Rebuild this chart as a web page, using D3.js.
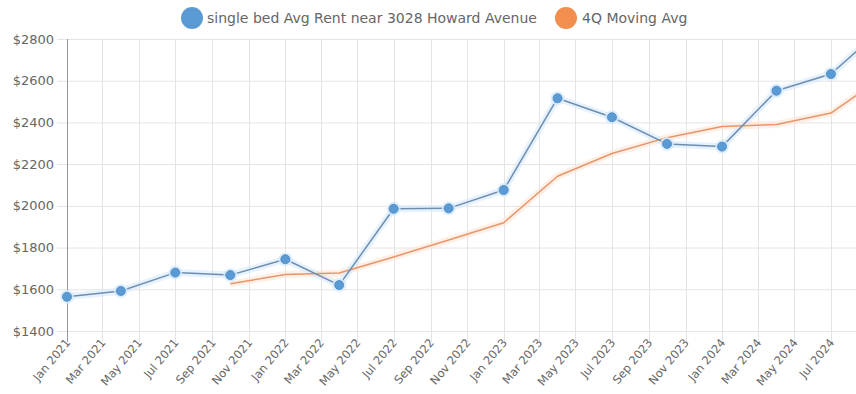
<!DOCTYPE html>
<html>
<head>
<meta charset="utf-8">
<script src="https://cdn.jsdelivr.net/npm/d3@7"></script>
<style>
  html, body { margin: 0; padding: 0; background: #fff; }
  svg { display: block; }
  text { font-family: "DejaVu Sans", Verdana, sans-serif; fill: #666; }
</style>
</head>
<body>
<svg id="chart" width="856" height="394"></svg>
<script>
// Quarterly observations (first of month)
const dates = ["2021-01-01","2021-04-01","2021-07-01","2021-10-01",
               "2022-01-01","2022-04-01","2022-07-01","2022-10-01",
               "2023-01-01","2023-04-01","2023-07-01","2023-10-01",
               "2024-01-01","2024-04-01","2024-07-01","2024-09-01"];
const rentValues = [1564, 1592, 1680, 1668, 1744, 1620, 1986, 1988,
                    2076, 2516, 2425, 2297, 2284, 2552, 2632, 2790];
const movingAvgValues = [null, null, null, 1626, 1671, 1678, 1755, 1836,
                         1919, 2142, 2251, 2327, 2380, 2390, 2445, 2568];
const yTicks = [1400, 1600, 1800, 2000, 2200, 2400, 2600, 2800];
const xTickLabels = ["Jan 2021","Mar 2021","May 2021","Jul 2021","Sep 2021","Nov 2021",
                     "Jan 2022","Mar 2022","May 2022","Jul 2022","Sep 2022","Nov 2022",
                     "Jan 2023","Mar 2023","May 2023","Jul 2023","Sep 2023","Nov 2023",
                     "Jan 2024","Mar 2024","May 2024","Jul 2024"];
const seriesNames = ["single bed Avg Rent near 3028 Howard Avenue", "4Q Moving Avg"];

const parse = d3.timeParse("%Y-%m-%d");
const parseLabel = d3.timeParse("%b %Y");
const svg = d3.select("#chart");
const W = 856, H = 394;

const x = d3.scaleTime()
  .domain([parse("2021-01-01"), parse("2024-09-01")])
  .range([67, 868]);
const y = d3.scaleLinear().domain([1400, 2800]).range([331, 39]);

const blue = "#5b9bd5", blueLine = "#6f8db0", blueHalo = "#d6eafc";
const orange = "#f28e4e", orangeLine = "#e8956a", orangeHalo = "#fde6d6";

const tickDates = xTickLabels.map(s => parseLabel(s));

// grid
const grid = svg.append("g");
grid.selectAll("line.h").data(yTicks).join("line")
  .attr("x1", 57).attr("x2", W)
  .attr("y1", d => y(d) + 0.5).attr("y2", d => y(d) + 0.5)
  .attr("stroke", "#e4e4e4").attr("stroke-width", 1);
grid.selectAll("line.v").data(tickDates.slice(1)).join("line")
  .attr("x1", d => Math.round(x(d)) + 0.5).attr("x2", d => Math.round(x(d)) + 0.5)
  .attr("y1", 39).attr("y2", 342)
  .attr("stroke", "#e4e4e4").attr("stroke-width", 1);
// left axis line
svg.append("line")
  .attr("x1", Math.round(x(tickDates[0])) + 0.5).attr("x2", Math.round(x(tickDates[0])) + 0.5)
  .attr("y1", 39).attr("y2", 342)
  .attr("stroke", "#9a9a9a").attr("stroke-width", 1);

// y labels
svg.append("g").selectAll("text").data(yTicks).join("text")
  .attr("x", 54).attr("y", d => y(d)).attr("dy", "0.35em")
  .attr("text-anchor", "end").attr("font-size", 13)
  .text(d => "$" + d);

// x labels, rotated
svg.append("g").selectAll("text").data(tickDates).join("text")
  .attr("transform", (d) => `translate(${x(d) + 4},${343}) rotate(-50)`)
  .attr("text-anchor", "end").attr("font-size", 11.5)
  .text((d, i) => xTickLabels[i]);

const rows = dates.map((d, i) => ({ date: parse(d), rent: rentValues[i], ma: movingAvgValues[i] }));

const lineRent = d3.line().x(d => x(d.date)).y(d => y(d.rent));
const lineMA = d3.line().defined(d => d.ma != null).x(d => x(d.date)).y(d => y(d.ma));

// halos
svg.append("path").datum(rows).attr("d", lineMA)
  .attr("fill", "none").attr("stroke", orangeHalo).attr("stroke-width", 7)
  .attr("stroke-linejoin", "round").attr("opacity", 0.6);
svg.append("path").datum(rows).attr("d", lineRent)
  .attr("fill", "none").attr("stroke", blueHalo).attr("stroke-width", 7)
  .attr("stroke-linejoin", "round").attr("opacity", 0.6);

svg.append("path").datum(rows).attr("d", lineMA)
  .attr("fill", "none").attr("stroke", orangeLine).attr("stroke-width", 1.5)
  .attr("stroke-linejoin", "round");
svg.append("path").datum(rows).attr("d", lineRent)
  .attr("fill", "none").attr("stroke", blueLine).attr("stroke-width", 1.5)
  .attr("stroke-linejoin", "round");

const pts = svg.append("g").selectAll("g").data(rows).join("g")
  .attr("transform", d => `translate(${x(d.date)},${y(d.rent)})`);
pts.append("circle").attr("r", 7).attr("fill", blueHalo).attr("opacity", 0.8);
pts.append("circle").attr("r", 4.5).attr("fill", blue).attr("stroke", "#4a86c0").attr("stroke-width", 0.8);

// legend
const legend = svg.append("g");
const items = [
  { name: seriesNames[0], color: blue, cx: 192, tx: 207 },
  { name: seriesNames[1], color: orange, cx: 566, tx: 582 }
];
const li = legend.selectAll("g").data(items).join("g");
li.append("circle").attr("cx", d => d.cx).attr("cy", 18).attr("r", 11).attr("fill", d => d.color);
li.append("text").attr("x", d => d.tx).attr("y", 18).attr("dy", "0.35em")
  .attr("font-size", 14).text(d => d.name);
</script>
</body>
</html>
